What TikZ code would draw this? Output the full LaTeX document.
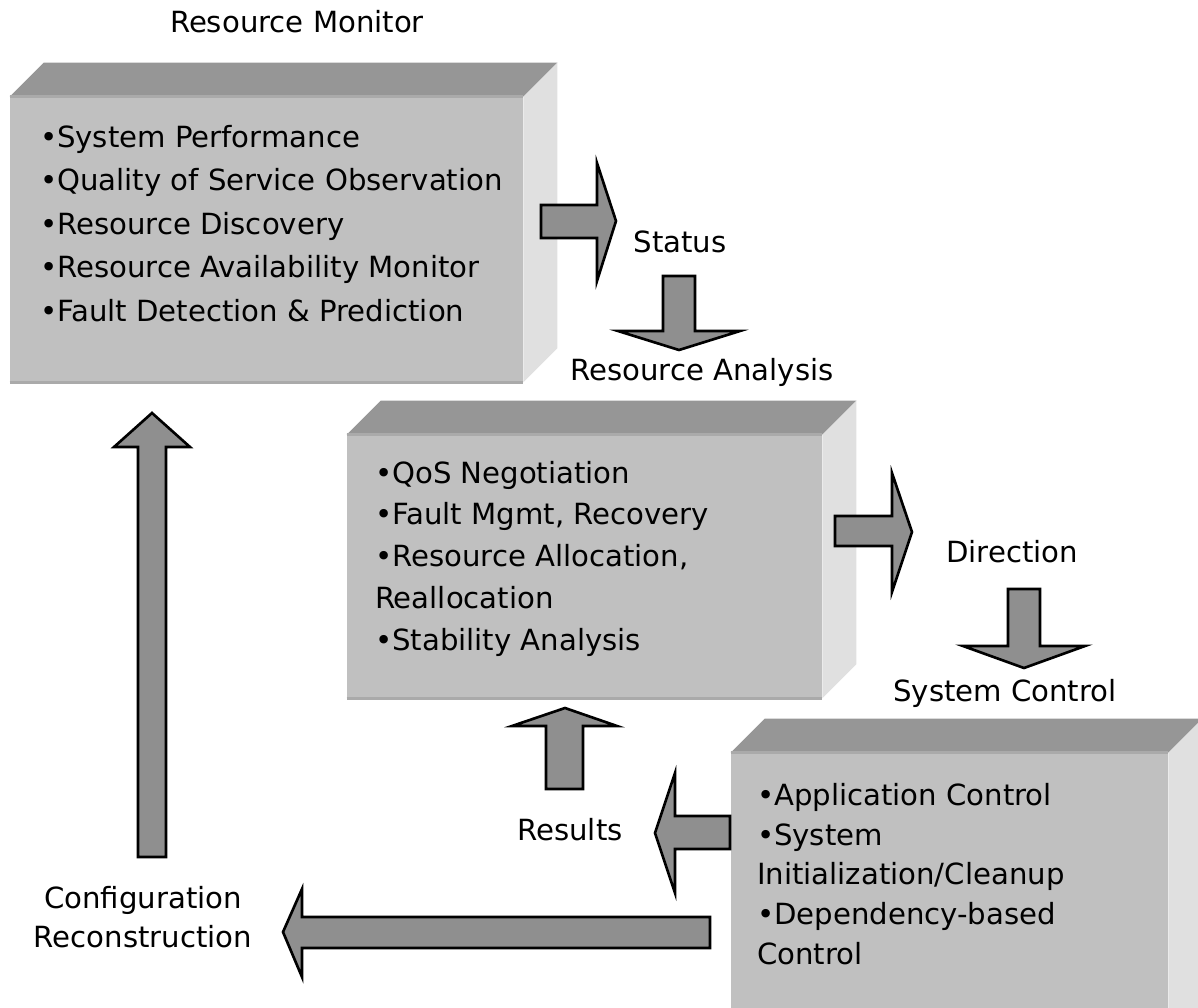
\documentclass[tikz,border=0pt]{standalone}
\usepackage{fontspec}
\setmainfont{DejaVu Sans}
\usepackage{tikz}
\usetikzlibrary{calc,positioning,fit}
\definecolor{facefront}{RGB}{192,192,192}
\definecolor{facetop}{RGB}{150,150,150}
\definecolor{faceside}{RGB}{224,224,224}
\definecolor{faceedge}{RGB}{170,170,170}
\definecolor{arrowfill}{RGB}{143,143,143}
\tikzset{
  frontface/.style={
      fill=facefront,
      inner sep=0pt,
  },
  topface/.style={
      fill=facetop,
  },
  sideface/.style={
      fill=faceside,
  },
  frontedge/.style={
      draw=faceedge,
      line width=1.7pt,
  },
  fatarrow/.style={
      draw=black,
      fill=arrowfill,
      line width=1.5pt,
  },
  steplabel/.style={
      font=\fontsize{16.6pt}{22pt}\selectfont,
      inner sep=0pt,
      align=center,
  },
  itemlist/.style={
      font=\fontsize{16.6pt}{#1}\selectfont,
      inner sep=0pt,
      align=left,
      anchor=north west,
  },
  itemlist/.default=24.8pt
}
% top and side of a block, from its front face
\newcommand\boxfaces[1]{%
  \fill[topface] (#1.north west) -- ++(34,-34) -- ($(#1.north east)+(34,-34)$) -- (#1.north east) -- cycle;
  \fill[sideface] (#1.north east) -- ++(34,-34) -- ($(#1.south east)+(34,-34)$) -- (#1.south east) -- cycle;
  \draw[frontedge] (#1.north west) -- (#1.north east);
  \draw[frontedge] (#1.south west) -- (#1.south east);
}
\begin{document}
\begin{tikzpicture}[x=0.02cm,y=-0.02cm]
  \useasboundingbox (0,0) rectangle (1198,1008);
  \clip (0,0) rectangle (1198,1008);
  % blocks
  \node[frontface,fit={(10,97)(523,382)}](monitor){};
  \boxfaces{monitor}
  \node[frontface,fit={(347,435)(822,698)}](analysis){};
  \boxfaces{analysis}
  \node[frontface,fit={(731,753)(1168,1040)}](control){};
  \boxfaces{control}
  \node[itemlist](monitoritems) at ($(monitor.north west)+(30,28)$)
  {•System Performance\\•Quality of Service Observation\\•Resource Discovery\\%
   •Resource Availability Monitor\\•Fault Detection \& Prediction};
  \node[itemlist=23.8pt](analysisitems) at ($(analysis.north west)+(28,26)$)
  {•QoS Negotiation\\•Fault Mgmt, Recovery\\•Resource Allocation,\\Reallocation\\%
   •Stability Analysis};
  \node[itemlist=22.7pt](controlitems) at ($(control.north west)+(26,30)$)
  {•Application Control\\•System\\Initialization/Cleanup\\•Dependency-based\\Control};
  % labels
  \node[steplabel,anchor=base](monitortitle) at (297,32) {Resource Monitor};
  \node[steplabel,anchor=base](status) at (680,252) {Status};
  \node[steplabel,anchor=base](analysistitle) at (702,380) {Resource Analysis};
  \node[steplabel,anchor=base](direction) at (1012,562) {Direction};
  \node[steplabel,anchor=base](controltitle) at (1005,701) {System Control};
  \node[steplabel,anchor=base](results) at (570,840) {Results};
  \node[steplabel,anchor=base](reconf) at (143,947) {Configuration\\Reconstruction};
  % arrows
  \draw[fatarrow] (541,205) -- (597,205) -- (597,163) -- (616,221) -- (597,281) -- (597,238) -- (541,238) -- cycle;
  \draw[fatarrow] (663,276) -- (695,276) -- (695,331) -- (740,331) -- (679,350) -- (618,331) -- (663,331) -- cycle;
  \draw[fatarrow] (835,516) -- (892,516) -- (892,473) -- (912,532) -- (892,592) -- (892,546) -- (835,546) -- cycle;
  \draw[fatarrow] (1008,589) -- (1040,589) -- (1040,646) -- (1085,646) -- (1024,668) -- (963,646) -- (1008,646) -- cycle;
  \draw[fatarrow] (546,789) -- (546,726) -- (512,726) -- (565,708) -- (617,726) -- (583,726) -- (583,789) -- cycle;
  \draw[fatarrow] (730,816) -- (675,816) -- (675,773) -- (655,833) -- (675,893) -- (675,849) -- (730,849) -- cycle;
  \draw[fatarrow] (710,917) -- (302,917) -- (302,889) -- (283,932) -- (302,977) -- (302,948) -- (710,948) -- cycle;
  \draw[fatarrow] (138,857) -- (138,447) -- (114,447) -- (152,413) -- (190,447) -- (166,447) -- (166,857) -- cycle;
\end{tikzpicture}
\end{document}
